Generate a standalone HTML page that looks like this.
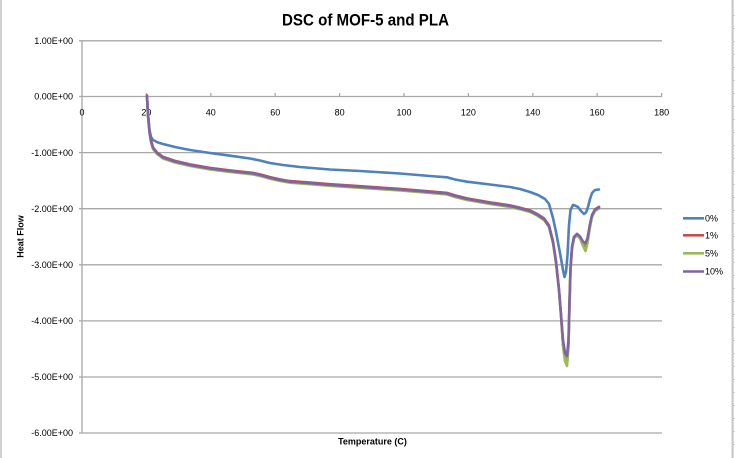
<!DOCTYPE html>
<html><head><meta charset="utf-8"><style>
html,body{margin:0;padding:0;background:#fff;}
svg{display:block;}
text{font-family:"Liberation Sans",Arial,sans-serif;fill:#000;}
</style></head><body>
<svg width="735" height="458" viewBox="0 0 735 458" xmlns="http://www.w3.org/2000/svg">
<rect width="735" height="458" fill="#fff"/>
<!-- spreadsheet edges -->
<line x1="1" y1="0" x2="1" y2="458" stroke="#c4c4c4" stroke-width="1.5"/>
<rect x="731.5" y="0" width="2.2" height="458" fill="#c8c8c8"/>
<g stroke="#c8c8c8" stroke-width="1">
<line x1="733" y1="15.5" x2="735" y2="15.5"/><line x1="733" y1="28.5" x2="735" y2="28.5"/><line x1="733" y1="41.5" x2="735" y2="41.5"/><line x1="733" y1="54.5" x2="735" y2="54.5"/><line x1="733" y1="67.5" x2="735" y2="67.5"/><line x1="733" y1="80.5" x2="735" y2="80.5"/><line x1="733" y1="93.5" x2="735" y2="93.5"/><line x1="733" y1="106.5" x2="735" y2="106.5"/><line x1="733" y1="119.5" x2="735" y2="119.5"/><line x1="733" y1="132.5" x2="735" y2="132.5"/><line x1="733" y1="145.5" x2="735" y2="145.5"/><line x1="733" y1="158.5" x2="735" y2="158.5"/><line x1="733" y1="171.5" x2="735" y2="171.5"/><line x1="733" y1="184.5" x2="735" y2="184.5"/><line x1="733" y1="197.5" x2="735" y2="197.5"/><line x1="733" y1="210.5" x2="735" y2="210.5"/><line x1="733" y1="223.5" x2="735" y2="223.5"/><line x1="733" y1="236.5" x2="735" y2="236.5"/><line x1="733" y1="249.5" x2="735" y2="249.5"/><line x1="733" y1="262.5" x2="735" y2="262.5"/><line x1="733" y1="275.5" x2="735" y2="275.5"/><line x1="733" y1="288.5" x2="735" y2="288.5"/><line x1="733" y1="301.5" x2="735" y2="301.5"/><line x1="733" y1="314.5" x2="735" y2="314.5"/><line x1="733" y1="327.5" x2="735" y2="327.5"/><line x1="733" y1="340.5" x2="735" y2="340.5"/><line x1="733" y1="353.5" x2="735" y2="353.5"/><line x1="733" y1="366.5" x2="735" y2="366.5"/><line x1="733" y1="379.5" x2="735" y2="379.5"/><line x1="733" y1="392.5" x2="735" y2="392.5"/><line x1="733" y1="405.5" x2="735" y2="405.5"/><line x1="733" y1="418.5" x2="735" y2="418.5"/><line x1="733" y1="431.5" x2="735" y2="431.5"/><line x1="733" y1="444.5" x2="735" y2="444.5"/>
</g>

<!-- title -->
<text x="365.5" y="25.5" font-size="16.5" font-weight="bold" text-anchor="middle" textLength="167" lengthAdjust="spacingAndGlyphs">DSC of MOF-5 and PLA</text>

<!-- gridlines -->
<g stroke="#a8a8a8" stroke-width="1.3">
<line x1="79" y1="40.8" x2="662" y2="40.8"/>
<line x1="79" y1="96.5" x2="662" y2="96.5"/>
<line x1="79" y1="152.6" x2="662" y2="152.6"/>
<line x1="79" y1="208.7" x2="662" y2="208.7"/>
<line x1="79" y1="264.8" x2="662" y2="264.8"/>
<line x1="79" y1="320.9" x2="662" y2="320.9"/>
<line x1="79" y1="377" x2="662" y2="377"/>
<line x1="79" y1="433" x2="662" y2="433"/>
<line x1="82" y1="40.8" x2="82" y2="433"/>
<!-- x ticks -->
<line x1="146.4" y1="93" x2="146.4" y2="96.5"/>
<line x1="210.8" y1="93" x2="210.8" y2="96.5"/>
<line x1="275.2" y1="93" x2="275.2" y2="96.5"/>
<line x1="339.6" y1="93" x2="339.6" y2="96.5"/>
<line x1="404" y1="93" x2="404" y2="96.5"/>
<line x1="468.4" y1="93" x2="468.4" y2="96.5"/>
<line x1="532.8" y1="93" x2="532.8" y2="96.5"/>
<line x1="597.2" y1="93" x2="597.2" y2="96.5"/>
<line x1="661.6" y1="93" x2="661.6" y2="96.5"/>
</g>

<!-- y labels -->
<g font-size="9" text-anchor="end">
<text x="73" y="44">1.00E+00</text>
<text x="73" y="99.7">0.00E+00</text>
<text x="73" y="155.8">-1.00E+00</text>
<text x="73" y="211.9">-2.00E+00</text>
<text x="73" y="268">-3.00E+00</text>
<text x="73" y="324.1">-4.00E+00</text>
<text x="73" y="380.2">-5.00E+00</text>
<text x="73" y="436.2">-6.00E+00</text>
</g>
<!-- x labels -->
<g font-size="9" text-anchor="middle">
<text x="82" y="115.3">0</text>
<text x="146.4" y="115.3">20</text>
<text x="210.8" y="115.3">40</text>
<text x="275.2" y="115.3">60</text>
<text x="339.6" y="115.3">80</text>
<text x="404" y="115.3">100</text>
<text x="468.4" y="115.3">120</text>
<text x="532.8" y="115.3">140</text>
<text x="597.2" y="115.3">160</text>
<text x="661.6" y="115.3">180</text>
</g>

<!-- axis titles -->
<text transform="translate(23.3,236.5) rotate(-90)" font-size="9" font-weight="bold" text-anchor="middle">Heat Flow</text>
<text x="372.5" y="444.5" font-size="9" font-weight="bold" text-anchor="middle">Temperature (C)</text>

<!-- series -->
<g fill="none" stroke-width="2.6" stroke-linejoin="round" stroke-linecap="round">
<polyline stroke="#4F81BD" points="147,96 148,115 149.5,130 151,137 153,140 158,142.5 163,144 175,147 190,150 210,153 230,155.7 250,158.5 260,160.5 270,163 283,165 300,167 330,169.5 360,171 400,173.5 430,176 447,177.3 455,179.5 467,181.7 490,184.5 510,187 520,189 530,192 538,195 545,199 549,204 553,218 556,232 560,253 563,270 564.5,277 566,272 567.5,255 569,225 570.5,210 573,205 575,205.5 578,207 581,211 584,214 586,212.5 588,207 590,199 592,193 595,190 599,189.5"/>
<polyline stroke="#C0504D" transform="translate(0,-0.6)" points="147,96 148,115 149.5,132 151,141 153,148 157,153 163,157.5 175,161.5 190,165 210,168.5 230,171 253,173.5 262,175.5 270,177.7 280,180 290,181.7 310,183.2 330,184.8 360,186.8 400,189.5 430,192 447,193.5 455,196 467,199 490,203 510,206 520,208.3 530,211 537,214.5 544,219 549,226 553,242 556,262 559,290 561,315 563,345 565,360 567,365 568.5,345 569.5,305 570.5,270 572,248 574,237.5 577,234.5 580,237.5 583,245 585.5,250 587.5,242 590,226 592,216 595,210 599,207.5"/>
<polyline stroke="#9BBB59" transform="translate(0,1)" points="147,96 148,115 149.5,132 151,141 153,148 157,153 163,157.5 175,161.5 190,165 210,168.5 230,171 253,173.5 262,175.5 270,177.7 280,180 290,181.7 310,183.2 330,184.8 360,186.8 400,189.5 430,192 447,193.5 455,196 467,199 490,203 510,206 520,208.3 530,211 537,214.5 544,219 549,226 553,242 556,262 559,290 561,315 563,345 565,360 567,365 568.5,345 569.5,305 570.5,270 572,248 574,237.5 577,234.5 580,237.5 583,245 585.5,250 587.5,242 590,226 592,216 595,210 599,207.5"/>
<polyline stroke="#8064A2" points="147,96 148,115 149.5,132 151,141 153,148 157,153 163,157.5 175,161.5 190,165 210,168.5 230,171 253,173.5 262,175.5 270,177.7 280,180 290,181.7 310,183.2 330,184.8 360,186.8 400,189.5 430,192 447,193.5 455,196 467,199 490,203 510,206 520,208.3 530,211 537,214.5 544,219 549,226 553,242 556,262 559,290 561,315 563,340 565,353 567,356 568.5,340 569.5,300 570.5,268 572,247 574,237 577,234 580,236.5 583,241.5 585.5,243.5 587.5,238 590,224 592,215 595,209.5 599,207.5"/>
</g>

<!-- legend -->
<g stroke-width="2.6" stroke-linecap="butt">
<line x1="683" y1="218.3" x2="704" y2="218.3" stroke="#4F81BD"/>
<line x1="683" y1="235.3" x2="704" y2="235.3" stroke="#C0504D"/>
<line x1="683" y1="253.3" x2="704" y2="253.3" stroke="#9BBB59"/>
<line x1="683" y1="271.5" x2="704" y2="271.5" stroke="#8064A2"/>
</g>
<g font-size="9">
<text x="705" y="221.5">0%</text>
<text x="705" y="238.5">1%</text>
<text x="705" y="256.5">5%</text>
<text x="705" y="274.7">10%</text>
</g>
</svg>
</body></html>
